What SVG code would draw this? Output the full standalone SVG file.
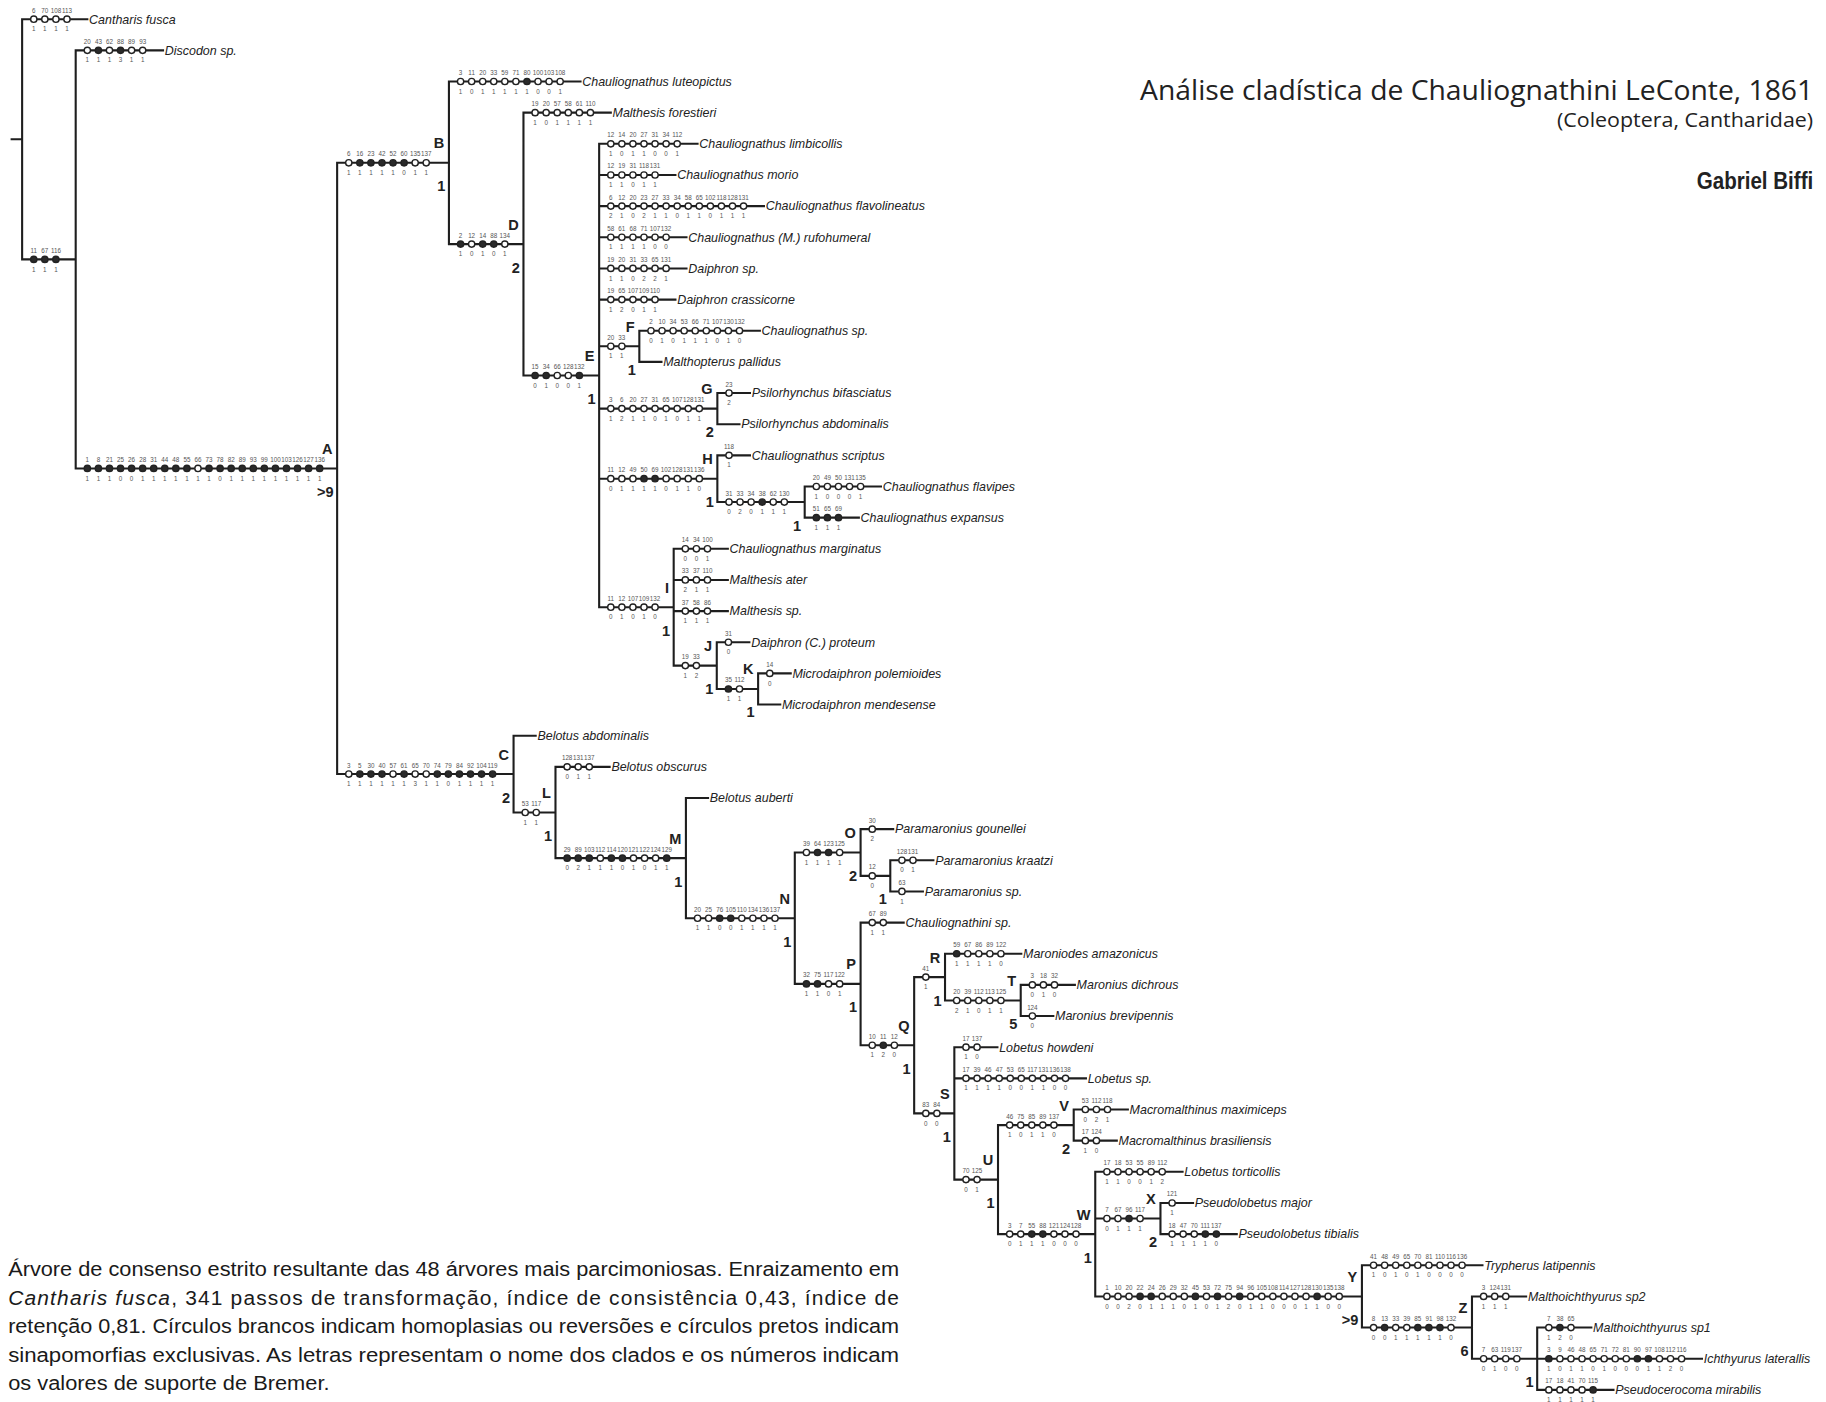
<svg xmlns="http://www.w3.org/2000/svg" width="1826" height="1402" viewBox="0 0 1826 1402">
<style>
.br{stroke:#1e1e1e;stroke-width:1.8;fill:none;stroke-linecap:square}
.o{fill:#fff;stroke:#222;stroke-width:1.2}
.f{fill:#2a2a2a;stroke:#222;stroke-width:1.2}
.n{font-family:"Liberation Sans Narrow","Liberation Sans",Arial,sans-serif;font-size:5.4px;fill:#555;text-anchor:middle}
.tx{font-family:"Liberation Sans",Arial,sans-serif;font-style:italic;font-size:10.7px;fill:#222}
.lb{font-family:"Liberation Sans",Arial,sans-serif;font-weight:bold;font-size:12.5px;fill:#222;text-anchor:end}
.ti{font-family:"Open Sans","Liberation Sans",sans-serif;fill:#222}
.cap{font-family:"Liberation Sans",Arial,sans-serif;font-size:18px;fill:#1a1a1a}
</style>
<defs><circle id="c" r="2.7"/></defs>
<rect width="1826" height="1402" fill="#fff"/>
<g transform="scale(1.16454)">
<g id="connectors">
<path class="br" d="M10 119.6H19M19 16.5V222.75M19 16.5H75M19 222.75H65M65 43.25V402.25M65 43.25H140M65 402.25H289.5
M289.5 139.8V664.7M289.5 139.8H385.5M289.5 664.7H441
M385.5 70V209.6M385.5 70H498.5M385.5 209.6H449.5
M449.5 96.75V322.45M449.5 96.75H524.5M449.5 322.45H514.5
M514.5 123.5V521.4M514.5 123.5H599M514.5 150.25H580M514.5 177H656M514.5 203.75H589.5M514.5 230.5H589.5M514.5 257.25H580M514.5 297.375H549M514.5 350.875H616M514.5 411.06H616M514.5 521.4H578.5
M549 284V310.75M549 284H652.5M549 310.75H568
M616 337.5V364.25M616 337.5H644M616 364.25H635
M616 391V431.125M616 391H644M616 431.125H691
M691 417.75V444.5M691 417.75H756.5M691 444.5H737.5
M578.5 471.25V571.56M578.5 471.25H625M578.5 498H625M578.5 524.75H625M578.5 571.56H615.5
M615.5 551.5V591.625M615.5 551.5H643.5M615.5 591.625H651
M651 578.25V605M651 578.25H679M651 605H670
M441 631.75V697.7M441 631.75H460M441 697.7H477
M477 658.5V736.9M477 658.5H523.5M477 736.9H589
M589 685.25V788.5M589 685.25H608M589 788.5H682.5
M682.5 732.06V844.9M682.5 732.06H739M682.5 844.9H739
M739 712V752.125M739 712H767M739 752.125H764.5
M764.5 738.75V765.5M764.5 738.75H801.5M764.5 765.5H792.5
M739 792.25V897.58M739 792.25H776M739 897.58H785
M785 839.06V956.1M785 839.06H811.5M785 956.1H819.5
M811.5 819V859.125M811.5 819H877M811.5 859.125H876.5
M876.5 845.75V872.5M876.5 845.75H923M876.5 872.5H904.5
M819.5 899.25V1012.94M819.5 899.25H856.5M819.5 926H932.5M819.5 1012.94H857
M857 966.125V1059.75M857 966.125H922M857 1059.75H940.5
M922 952.75V979.5M922 952.75H968.5M922 979.5H959
M940.5 1006.25V1113.25M940.5 1006.25H1015.5M940.5 1046.375H996.5M940.5 1113.25H1169.5
M996.5 1033V1059.75M996.5 1033H1024.5M996.5 1059.75H1062
M1169.5 1086.5V1140M1169.5 1086.5H1273M1169.5 1140H1264
M1264 1113.25V1166.75M1264 1113.25H1310.5M1264 1166.75H1320
M1320 1140V1193.5M1320 1140H1366.5M1320 1166.75H1461.5M1320 1193.5H1385.5"/>
</g>

<g id="t-cantharis-fusca"><g transform="translate(19,16.5)"><text class="n" y="-5.6"><tspan x="10">6</tspan><tspan x="19.5">70</tspan><tspan x="29">108</tspan><tspan x="38.5">113</tspan></text><text class="n" y="10.4"><tspan x="10">1</tspan><tspan x="19.5">1</tspan><tspan x="29">1</tspan><tspan x="38.5">1</tspan></text><use href="#c" class="o" x="10"/><use href="#c" class="o" x="19.5"/><use href="#c" class="o" x="29"/><use href="#c" class="o" x="38.5"/></g><text class="tx" x="76.5" y="20.2">Cantharis fusca</text></g>

<g id="node-ingroup"><g transform="translate(19,222.75)"><text class="n" y="-5.6"><tspan x="10">11</tspan><tspan x="19.5">67</tspan><tspan x="29">116</tspan></text><text class="n" y="10.4"><tspan x="10">1</tspan><tspan x="19.5">1</tspan><tspan x="29">1</tspan></text><use href="#c" class="f" x="10"/><use href="#c" class="f" x="19.5"/><use href="#c" class="f" x="29"/></g></g>

<g id="t-discodon"><g transform="translate(65,43.25)"><text class="n" y="-5.6"><tspan x="10">20</tspan><tspan x="19.5">43</tspan><tspan x="29">62</tspan><tspan x="38.5">88</tspan><tspan x="48">89</tspan><tspan x="57.5">93</tspan></text><text class="n" y="10.4"><tspan x="10">1</tspan><tspan x="19.5">1</tspan><tspan x="29">1</tspan><tspan x="38.5">3</tspan><tspan x="48">1</tspan><tspan x="57.5">1</tspan></text><use href="#c" class="o" x="10"/><use href="#c" class="f" x="19.5"/><use href="#c" class="o" x="29"/><use href="#c" class="f" x="38.5"/><use href="#c" class="o" x="48"/><use href="#c" class="o" x="57.5"/></g><text class="tx" x="141.5" y="46.95">Discodon sp.</text></g>

<g id="clade-A"><g transform="translate(65,402.25)"><text class="n" y="-5.6"><tspan x="10">1</tspan><tspan x="19.5">8</tspan><tspan x="29">21</tspan><tspan x="38.5">25</tspan><tspan x="48">26</tspan><tspan x="57.5">28</tspan><tspan x="67">31</tspan><tspan x="76.5">44</tspan><tspan x="86">48</tspan><tspan x="95.5">55</tspan><tspan x="105">66</tspan><tspan x="114.5">73</tspan><tspan x="124">78</tspan><tspan x="133.5">82</tspan><tspan x="143">89</tspan><tspan x="152.5">93</tspan><tspan x="162">99</tspan><tspan x="171.5">100</tspan><tspan x="181">103</tspan><tspan x="190.5">126</tspan><tspan x="200">127</tspan><tspan x="209.5">136</tspan></text><text class="n" y="10.4"><tspan x="10">1</tspan><tspan x="19.5">1</tspan><tspan x="29">1</tspan><tspan x="38.5">0</tspan><tspan x="48">0</tspan><tspan x="57.5">1</tspan><tspan x="67">1</tspan><tspan x="76.5">1</tspan><tspan x="86">1</tspan><tspan x="95.5">1</tspan><tspan x="105">1</tspan><tspan x="114.5">1</tspan><tspan x="124">0</tspan><tspan x="133.5">1</tspan><tspan x="143">1</tspan><tspan x="152.5">1</tspan><tspan x="162">1</tspan><tspan x="171.5">1</tspan><tspan x="181">1</tspan><tspan x="190.5">1</tspan><tspan x="200">1</tspan><tspan x="209.5">1</tspan></text><use href="#c" class="f" x="10"/><use href="#c" class="f" x="19.5"/><use href="#c" class="f" x="29"/><use href="#c" class="f" x="38.5"/><use href="#c" class="f" x="48"/><use href="#c" class="f" x="57.5"/><use href="#c" class="f" x="67"/><use href="#c" class="f" x="76.5"/><use href="#c" class="f" x="86"/><use href="#c" class="f" x="95.5"/><use href="#c" class="o" x="105"/><use href="#c" class="f" x="114.5"/><use href="#c" class="f" x="124"/><use href="#c" class="f" x="133.5"/><use href="#c" class="f" x="143"/><use href="#c" class="f" x="152.5"/><use href="#c" class="f" x="162"/><use href="#c" class="f" x="171.5"/><use href="#c" class="f" x="181"/><use href="#c" class="f" x="190.5"/><use href="#c" class="f" x="200"/><use href="#c" class="f" x="209.5"/></g><text class="lb" x="285.5" y="389.75">A</text><text class="lb" x="286.5" y="426.75">&gt;9</text></g>

<g id="clade-B"><g transform="translate(289.5,139.8)"><text class="n" y="-5.6"><tspan x="10">6</tspan><tspan x="19.5">16</tspan><tspan x="29">23</tspan><tspan x="38.5">42</tspan><tspan x="48">52</tspan><tspan x="57.5">60</tspan><tspan x="67">135</tspan><tspan x="76.5">137</tspan></text><text class="n" y="10.4"><tspan x="10">1</tspan><tspan x="19.5">1</tspan><tspan x="29">1</tspan><tspan x="38.5">1</tspan><tspan x="48">1</tspan><tspan x="57.5">0</tspan><tspan x="67">1</tspan><tspan x="76.5">1</tspan></text><use href="#c" class="o" x="10"/><use href="#c" class="f" x="19.5"/><use href="#c" class="f" x="29"/><use href="#c" class="f" x="38.5"/><use href="#c" class="f" x="48"/><use href="#c" class="f" x="57.5"/><use href="#c" class="o" x="67"/><use href="#c" class="o" x="76.5"/></g><text class="lb" x="381.5" y="127.3">B</text><text class="lb" x="382.5" y="164.3">1</text></g>

<g id="t-luteopictus"><g transform="translate(385.5,70)"><text class="n" y="-5.6"><tspan x="10">3</tspan><tspan x="19.5">11</tspan><tspan x="29">20</tspan><tspan x="38.5">33</tspan><tspan x="48">59</tspan><tspan x="57.5">71</tspan><tspan x="67">80</tspan><tspan x="76.5">100</tspan><tspan x="86">103</tspan><tspan x="95.5">108</tspan></text><text class="n" y="10.4"><tspan x="10">1</tspan><tspan x="19.5">0</tspan><tspan x="29">1</tspan><tspan x="38.5">1</tspan><tspan x="48">1</tspan><tspan x="57.5">1</tspan><tspan x="67">1</tspan><tspan x="76.5">0</tspan><tspan x="86">0</tspan><tspan x="95.5">1</tspan></text><use href="#c" class="o" x="10"/><use href="#c" class="o" x="19.5"/><use href="#c" class="o" x="29"/><use href="#c" class="o" x="38.5"/><use href="#c" class="o" x="48"/><use href="#c" class="o" x="57.5"/><use href="#c" class="f" x="67"/><use href="#c" class="o" x="76.5"/><use href="#c" class="o" x="86"/><use href="#c" class="o" x="95.5"/></g><text class="tx" x="500" y="73.7">Chauliognathus luteopictus</text></g>

<g id="clade-D"><g transform="translate(385.5,209.6)"><text class="n" y="-5.6"><tspan x="10">2</tspan><tspan x="19.5">12</tspan><tspan x="29">14</tspan><tspan x="38.5">88</tspan><tspan x="48">134</tspan></text><text class="n" y="10.4"><tspan x="10">1</tspan><tspan x="19.5">0</tspan><tspan x="29">1</tspan><tspan x="38.5">0</tspan><tspan x="48">1</tspan></text><use href="#c" class="f" x="10"/><use href="#c" class="o" x="19.5"/><use href="#c" class="f" x="29"/><use href="#c" class="f" x="38.5"/><use href="#c" class="o" x="48"/></g><text class="lb" x="445.5" y="197.1">D</text><text class="lb" x="446.5" y="234.1">2</text></g>

<g id="t-forestieri"><g transform="translate(449.5,96.75)"><text class="n" y="-5.6"><tspan x="10">19</tspan><tspan x="19.5">20</tspan><tspan x="29">57</tspan><tspan x="38.5">58</tspan><tspan x="48">61</tspan><tspan x="57.5">110</tspan></text><text class="n" y="10.4"><tspan x="10">1</tspan><tspan x="19.5">0</tspan><tspan x="29">1</tspan><tspan x="38.5">1</tspan><tspan x="48">1</tspan><tspan x="57.5">1</tspan></text><use href="#c" class="o" x="10"/><use href="#c" class="o" x="19.5"/><use href="#c" class="o" x="29"/><use href="#c" class="o" x="38.5"/><use href="#c" class="o" x="48"/><use href="#c" class="o" x="57.5"/></g><text class="tx" x="526" y="100.45">Malthesis forestieri</text></g>

<g id="clade-E"><g transform="translate(449.5,322.45)"><text class="n" y="-5.6"><tspan x="10">15</tspan><tspan x="19.5">34</tspan><tspan x="29">66</tspan><tspan x="38.5">128</tspan><tspan x="48">132</tspan></text><text class="n" y="10.4"><tspan x="10">0</tspan><tspan x="19.5">1</tspan><tspan x="29">0</tspan><tspan x="38.5">0</tspan><tspan x="48">1</tspan></text><use href="#c" class="f" x="10"/><use href="#c" class="f" x="19.5"/><use href="#c" class="o" x="29"/><use href="#c" class="o" x="38.5"/><use href="#c" class="f" x="48"/></g><text class="lb" x="510.5" y="309.95">E</text><text class="lb" x="511.5" y="346.95">1</text></g>

<g id="t-limbicollis"><g transform="translate(514.5,123.5)"><text class="n" y="-5.6"><tspan x="10">12</tspan><tspan x="19.5">14</tspan><tspan x="29">20</tspan><tspan x="38.5">27</tspan><tspan x="48">31</tspan><tspan x="57.5">34</tspan><tspan x="67">112</tspan></text><text class="n" y="10.4"><tspan x="10">1</tspan><tspan x="19.5">0</tspan><tspan x="29">1</tspan><tspan x="38.5">1</tspan><tspan x="48">0</tspan><tspan x="57.5">0</tspan><tspan x="67">1</tspan></text><use href="#c" class="o" x="10"/><use href="#c" class="o" x="19.5"/><use href="#c" class="o" x="29"/><use href="#c" class="o" x="38.5"/><use href="#c" class="o" x="48"/><use href="#c" class="o" x="57.5"/><use href="#c" class="o" x="67"/></g><text class="tx" x="600.5" y="127.2">Chauliognathus limbicollis</text></g>

<g id="t-morio"><g transform="translate(514.5,150.25)"><text class="n" y="-5.6"><tspan x="10">12</tspan><tspan x="19.5">19</tspan><tspan x="29">31</tspan><tspan x="38.5">118</tspan><tspan x="48">131</tspan></text><text class="n" y="10.4"><tspan x="10">1</tspan><tspan x="19.5">1</tspan><tspan x="29">0</tspan><tspan x="38.5">1</tspan><tspan x="48">1</tspan></text><use href="#c" class="o" x="10"/><use href="#c" class="o" x="19.5"/><use href="#c" class="o" x="29"/><use href="#c" class="o" x="38.5"/><use href="#c" class="o" x="48"/></g><text class="tx" x="581.5" y="153.95">Chauliognathus morio</text></g>

<g id="t-flavolineatus"><g transform="translate(514.5,177)"><text class="n" y="-5.6"><tspan x="10">6</tspan><tspan x="19.5">12</tspan><tspan x="29">20</tspan><tspan x="38.5">23</tspan><tspan x="48">27</tspan><tspan x="57.5">33</tspan><tspan x="67">34</tspan><tspan x="76.5">58</tspan><tspan x="86">65</tspan><tspan x="95.5">102</tspan><tspan x="105">118</tspan><tspan x="114.5">128</tspan><tspan x="124">131</tspan></text><text class="n" y="10.4"><tspan x="10">2</tspan><tspan x="19.5">1</tspan><tspan x="29">0</tspan><tspan x="38.5">2</tspan><tspan x="48">1</tspan><tspan x="57.5">1</tspan><tspan x="67">0</tspan><tspan x="76.5">1</tspan><tspan x="86">1</tspan><tspan x="95.5">0</tspan><tspan x="105">1</tspan><tspan x="114.5">1</tspan><tspan x="124">1</tspan></text><use href="#c" class="o" x="10"/><use href="#c" class="o" x="19.5"/><use href="#c" class="o" x="29"/><use href="#c" class="o" x="38.5"/><use href="#c" class="o" x="48"/><use href="#c" class="o" x="57.5"/><use href="#c" class="o" x="67"/><use href="#c" class="o" x="76.5"/><use href="#c" class="o" x="86"/><use href="#c" class="o" x="95.5"/><use href="#c" class="o" x="105"/><use href="#c" class="o" x="114.5"/><use href="#c" class="o" x="124"/></g><text class="tx" x="657.5" y="180.7">Chauliognathus flavolineatus</text></g>

<g id="t-rufohumeral"><g transform="translate(514.5,203.75)"><text class="n" y="-5.6"><tspan x="10">58</tspan><tspan x="19.5">61</tspan><tspan x="29">68</tspan><tspan x="38.5">71</tspan><tspan x="48">107</tspan><tspan x="57.5">132</tspan></text><text class="n" y="10.4"><tspan x="10">1</tspan><tspan x="19.5">1</tspan><tspan x="29">1</tspan><tspan x="38.5">1</tspan><tspan x="48">0</tspan><tspan x="57.5">0</tspan></text><use href="#c" class="o" x="10"/><use href="#c" class="o" x="19.5"/><use href="#c" class="o" x="29"/><use href="#c" class="o" x="38.5"/><use href="#c" class="o" x="48"/><use href="#c" class="o" x="57.5"/></g><text class="tx" x="591" y="207.45">Chauliognathus (M.) rufohumeral</text></g>

<g id="t-daiphron-sp"><g transform="translate(514.5,230.5)"><text class="n" y="-5.6"><tspan x="10">19</tspan><tspan x="19.5">20</tspan><tspan x="29">31</tspan><tspan x="38.5">33</tspan><tspan x="48">65</tspan><tspan x="57.5">131</tspan></text><text class="n" y="10.4"><tspan x="10">1</tspan><tspan x="19.5">1</tspan><tspan x="29">0</tspan><tspan x="38.5">2</tspan><tspan x="48">2</tspan><tspan x="57.5">1</tspan></text><use href="#c" class="o" x="10"/><use href="#c" class="o" x="19.5"/><use href="#c" class="o" x="29"/><use href="#c" class="o" x="38.5"/><use href="#c" class="o" x="48"/><use href="#c" class="o" x="57.5"/></g><text class="tx" x="591" y="234.2">Daiphron sp.</text></g>

<g id="t-crassicorne"><g transform="translate(514.5,257.25)"><text class="n" y="-5.6"><tspan x="10">19</tspan><tspan x="19.5">65</tspan><tspan x="29">107</tspan><tspan x="38.5">109</tspan><tspan x="48">110</tspan></text><text class="n" y="10.4"><tspan x="10">1</tspan><tspan x="19.5">2</tspan><tspan x="29">0</tspan><tspan x="38.5">1</tspan><tspan x="48">1</tspan></text><use href="#c" class="o" x="10"/><use href="#c" class="o" x="19.5"/><use href="#c" class="o" x="29"/><use href="#c" class="o" x="38.5"/><use href="#c" class="o" x="48"/></g><text class="tx" x="581.5" y="260.95">Daiphron crassicorne</text></g>

<g id="clade-F"><g transform="translate(514.5,297.375)"><text class="n" y="-5.6"><tspan x="10">20</tspan><tspan x="19.5">33</tspan></text><text class="n" y="10.4"><tspan x="10">1</tspan><tspan x="19.5">1</tspan></text><use href="#c" class="o" x="10"/><use href="#c" class="o" x="19.5"/></g><text class="lb" x="545" y="284.9">F</text><text class="lb" x="546" y="321.9">1</text></g>

<g id="t-chauliognathus-sp"><g transform="translate(549,284)"><text class="n" y="-5.6"><tspan x="10">2</tspan><tspan x="19.5">10</tspan><tspan x="29">34</tspan><tspan x="38.5">53</tspan><tspan x="48">66</tspan><tspan x="57.5">71</tspan><tspan x="67">107</tspan><tspan x="76.5">130</tspan><tspan x="86">132</tspan></text><text class="n" y="10.4"><tspan x="10">0</tspan><tspan x="19.5">1</tspan><tspan x="29">0</tspan><tspan x="38.5">1</tspan><tspan x="48">1</tspan><tspan x="57.5">1</tspan><tspan x="67">0</tspan><tspan x="76.5">1</tspan><tspan x="86">0</tspan></text><use href="#c" class="o" x="10"/><use href="#c" class="o" x="19.5"/><use href="#c" class="o" x="29"/><use href="#c" class="o" x="38.5"/><use href="#c" class="o" x="48"/><use href="#c" class="o" x="57.5"/><use href="#c" class="o" x="67"/><use href="#c" class="o" x="76.5"/><use href="#c" class="o" x="86"/></g><text class="tx" x="654" y="287.7">Chauliognathus sp.</text></g>

<g id="t-malthopterus"><text class="tx" x="569.5" y="314.45">Malthopterus pallidus</text></g>

<g id="clade-G"><g transform="translate(514.5,350.875)"><text class="n" y="-5.6"><tspan x="10">3</tspan><tspan x="19.5">6</tspan><tspan x="29">20</tspan><tspan x="38.5">27</tspan><tspan x="48">31</tspan><tspan x="57.5">65</tspan><tspan x="67">107</tspan><tspan x="76.5">128</tspan><tspan x="86">131</tspan></text><text class="n" y="10.4"><tspan x="10">1</tspan><tspan x="19.5">2</tspan><tspan x="29">1</tspan><tspan x="38.5">1</tspan><tspan x="48">0</tspan><tspan x="57.5">1</tspan><tspan x="67">0</tspan><tspan x="76.5">1</tspan><tspan x="86">1</tspan></text><use href="#c" class="o" x="10"/><use href="#c" class="o" x="19.5"/><use href="#c" class="o" x="29"/><use href="#c" class="o" x="38.5"/><use href="#c" class="o" x="48"/><use href="#c" class="o" x="57.5"/><use href="#c" class="o" x="67"/><use href="#c" class="o" x="76.5"/><use href="#c" class="o" x="86"/></g><text class="lb" x="612" y="338.4">G</text><text class="lb" x="613" y="375.4">2</text></g>

<g id="t-bifasciatus"><g transform="translate(616,337.5)"><text class="n" y="-5.6"><tspan x="10">23</tspan></text><text class="n" y="10.4"><tspan x="10">2</tspan></text><use href="#c" class="o" x="10"/></g><text class="tx" x="645.5" y="341.2">Psilorhynchus bifasciatus</text></g>

<g id="t-abdominalis-psil"><text class="tx" x="636.5" y="367.95">Psilorhynchus abdominalis</text></g>

<g id="clade-H"><g transform="translate(514.5,411.06)"><text class="n" y="-5.6"><tspan x="10">11</tspan><tspan x="19.5">12</tspan><tspan x="29">49</tspan><tspan x="38.5">50</tspan><tspan x="48">69</tspan><tspan x="57.5">102</tspan><tspan x="67">128</tspan><tspan x="76.5">131</tspan><tspan x="86">136</tspan></text><text class="n" y="10.4"><tspan x="10">0</tspan><tspan x="19.5">1</tspan><tspan x="29">1</tspan><tspan x="38.5">1</tspan><tspan x="48">1</tspan><tspan x="57.5">0</tspan><tspan x="67">1</tspan><tspan x="76.5">1</tspan><tspan x="86">0</tspan></text><use href="#c" class="o" x="10"/><use href="#c" class="o" x="19.5"/><use href="#c" class="o" x="29"/><use href="#c" class="f" x="38.5"/><use href="#c" class="f" x="48"/><use href="#c" class="o" x="57.5"/><use href="#c" class="o" x="67"/><use href="#c" class="o" x="76.5"/><use href="#c" class="o" x="86"/></g><text class="lb" x="612" y="398.6">H</text><text class="lb" x="613" y="435.6">1</text></g>

<g id="t-scriptus"><g transform="translate(616,391)"><text class="n" y="-5.6"><tspan x="10">118</tspan></text><text class="n" y="10.4"><tspan x="10">1</tspan></text><use href="#c" class="o" x="10"/></g><text class="tx" x="645.5" y="394.7">Chauliognathus scriptus</text></g>

<g id="node-H2"><g transform="translate(616,431.125)"><text class="n" y="-5.6"><tspan x="10">31</tspan><tspan x="19.5">33</tspan><tspan x="29">34</tspan><tspan x="38.5">38</tspan><tspan x="48">62</tspan><tspan x="57.5">130</tspan></text><text class="n" y="10.4"><tspan x="10">0</tspan><tspan x="19.5">2</tspan><tspan x="29">0</tspan><tspan x="38.5">1</tspan><tspan x="48">1</tspan><tspan x="57.5">1</tspan></text><use href="#c" class="o" x="10"/><use href="#c" class="o" x="19.5"/><use href="#c" class="o" x="29"/><use href="#c" class="f" x="38.5"/><use href="#c" class="o" x="48"/><use href="#c" class="o" x="57.5"/></g><text class="lb" x="688" y="455.6">1</text></g>

<g id="t-flavipes"><g transform="translate(691,417.75)"><text class="n" y="-5.6"><tspan x="10">20</tspan><tspan x="19.5">49</tspan><tspan x="29">50</tspan><tspan x="38.5">131</tspan><tspan x="48">135</tspan></text><text class="n" y="10.4"><tspan x="10">1</tspan><tspan x="19.5">0</tspan><tspan x="29">0</tspan><tspan x="38.5">0</tspan><tspan x="48">1</tspan></text><use href="#c" class="o" x="10"/><use href="#c" class="o" x="19.5"/><use href="#c" class="o" x="29"/><use href="#c" class="o" x="38.5"/><use href="#c" class="o" x="48"/></g><text class="tx" x="758" y="421.45">Chauliognathus flavipes</text></g>

<g id="t-expansus"><g transform="translate(691,444.5)"><text class="n" y="-5.6"><tspan x="10">51</tspan><tspan x="19.5">65</tspan><tspan x="29">69</tspan></text><text class="n" y="10.4"><tspan x="10">1</tspan><tspan x="19.5">1</tspan><tspan x="29">1</tspan></text><use href="#c" class="f" x="10"/><use href="#c" class="f" x="19.5"/><use href="#c" class="f" x="29"/></g><text class="tx" x="739" y="448.2">Chauliognathus expansus</text></g>

<g id="clade-I"><g transform="translate(514.5,521.4)"><text class="n" y="-5.6"><tspan x="10">11</tspan><tspan x="19.5">12</tspan><tspan x="29">107</tspan><tspan x="38.5">109</tspan><tspan x="48">132</tspan></text><text class="n" y="10.4"><tspan x="10">0</tspan><tspan x="19.5">1</tspan><tspan x="29">0</tspan><tspan x="38.5">1</tspan><tspan x="48">0</tspan></text><use href="#c" class="o" x="10"/><use href="#c" class="o" x="19.5"/><use href="#c" class="o" x="29"/><use href="#c" class="o" x="38.5"/><use href="#c" class="o" x="48"/></g><text class="lb" x="574.5" y="508.9">I</text><text class="lb" x="575.5" y="545.9">1</text></g>

<g id="t-marginatus"><g transform="translate(578.5,471.25)"><text class="n" y="-5.6"><tspan x="10">14</tspan><tspan x="19.5">34</tspan><tspan x="29">100</tspan></text><text class="n" y="10.4"><tspan x="10">0</tspan><tspan x="19.5">0</tspan><tspan x="29">1</tspan></text><use href="#c" class="o" x="10"/><use href="#c" class="o" x="19.5"/><use href="#c" class="o" x="29"/></g><text class="tx" x="626.5" y="474.95">Chauliognathus marginatus</text></g>

<g id="t-ater"><g transform="translate(578.5,498)"><text class="n" y="-5.6"><tspan x="10">33</tspan><tspan x="19.5">37</tspan><tspan x="29">110</tspan></text><text class="n" y="10.4"><tspan x="10">2</tspan><tspan x="19.5">1</tspan><tspan x="29">1</tspan></text><use href="#c" class="o" x="10"/><use href="#c" class="o" x="19.5"/><use href="#c" class="o" x="29"/></g><text class="tx" x="626.5" y="501.7">Malthesis ater</text></g>

<g id="t-malthesis-sp"><g transform="translate(578.5,524.75)"><text class="n" y="-5.6"><tspan x="10">37</tspan><tspan x="19.5">58</tspan><tspan x="29">86</tspan></text><text class="n" y="10.4"><tspan x="10">1</tspan><tspan x="19.5">1</tspan><tspan x="29">1</tspan></text><use href="#c" class="o" x="10"/><use href="#c" class="o" x="19.5"/><use href="#c" class="o" x="29"/></g><text class="tx" x="626.5" y="528.45">Malthesis sp.</text></g>

<g id="clade-J"><g transform="translate(578.5,571.56)"><text class="n" y="-5.6"><tspan x="10">19</tspan><tspan x="19.5">33</tspan></text><text class="n" y="10.4"><tspan x="10">1</tspan><tspan x="19.5">2</tspan></text><use href="#c" class="o" x="10"/><use href="#c" class="o" x="19.5"/></g><text class="lb" x="611.5" y="559.1">J</text><text class="lb" x="612.5" y="596.1">1</text></g>

<g id="t-proteum"><g transform="translate(615.5,551.5)"><text class="n" y="-5.6"><tspan x="10">31</tspan></text><text class="n" y="10.4"><tspan x="10">0</tspan></text><use href="#c" class="o" x="10"/></g><text class="tx" x="645" y="555.2">Daiphron (C.) proteum</text></g>

<g id="clade-K"><g transform="translate(615.5,591.625)"><text class="n" y="-5.6"><tspan x="10">35</tspan><tspan x="19.5">112</tspan></text><text class="n" y="10.4"><tspan x="10">1</tspan><tspan x="19.5">1</tspan></text><use href="#c" class="f" x="10"/><use href="#c" class="o" x="19.5"/></g><text class="lb" x="647" y="579.1">K</text><text class="lb" x="648" y="616.1">1</text></g>

<g id="t-polemioides"><g transform="translate(651,578.25)"><text class="n" y="-5.6"><tspan x="10">14</tspan></text><text class="n" y="10.4"><tspan x="10">0</tspan></text><use href="#c" class="o" x="10"/></g><text class="tx" x="680.5" y="581.95">Microdaiphron polemioides</text></g>

<g id="t-mendesense"><text class="tx" x="671.5" y="608.7">Microdaiphron mendesense</text></g>

<g id="clade-C"><g transform="translate(289.5,664.7)"><text class="n" y="-5.6"><tspan x="10">3</tspan><tspan x="19.5">5</tspan><tspan x="29">30</tspan><tspan x="38.5">40</tspan><tspan x="48">57</tspan><tspan x="57.5">61</tspan><tspan x="67">65</tspan><tspan x="76.5">70</tspan><tspan x="86">74</tspan><tspan x="95.5">79</tspan><tspan x="105">84</tspan><tspan x="114.5">92</tspan><tspan x="124">104</tspan><tspan x="133.5">119</tspan></text><text class="n" y="10.4"><tspan x="10">1</tspan><tspan x="19.5">1</tspan><tspan x="29">1</tspan><tspan x="38.5">1</tspan><tspan x="48">1</tspan><tspan x="57.5">1</tspan><tspan x="67">3</tspan><tspan x="76.5">1</tspan><tspan x="86">1</tspan><tspan x="95.5">0</tspan><tspan x="105">1</tspan><tspan x="114.5">1</tspan><tspan x="124">1</tspan><tspan x="133.5">1</tspan></text><use href="#c" class="o" x="10"/><use href="#c" class="f" x="19.5"/><use href="#c" class="f" x="29"/><use href="#c" class="f" x="38.5"/><use href="#c" class="o" x="48"/><use href="#c" class="f" x="57.5"/><use href="#c" class="o" x="67"/><use href="#c" class="o" x="76.5"/><use href="#c" class="f" x="86"/><use href="#c" class="f" x="95.5"/><use href="#c" class="f" x="105"/><use href="#c" class="f" x="114.5"/><use href="#c" class="f" x="124"/><use href="#c" class="f" x="133.5"/></g><text class="lb" x="437" y="652.2">C</text><text class="lb" x="438" y="689.2">2</text></g>

<g id="t-belotus-abdominalis"><text class="tx" x="461.5" y="635.45">Belotus abdominalis</text></g>

<g id="clade-L"><g transform="translate(441,697.7)"><text class="n" y="-5.6"><tspan x="10">53</tspan><tspan x="19.5">117</tspan></text><text class="n" y="10.4"><tspan x="10">1</tspan><tspan x="19.5">1</tspan></text><use href="#c" class="o" x="10"/><use href="#c" class="o" x="19.5"/></g><text class="lb" x="473" y="685.2">L</text><text class="lb" x="474" y="722.2">1</text></g>

<g id="t-obscurus"><g transform="translate(477,658.5)"><text class="n" y="-5.6"><tspan x="10">128</tspan><tspan x="19.5">131</tspan><tspan x="29">137</tspan></text><text class="n" y="10.4"><tspan x="10">0</tspan><tspan x="19.5">1</tspan><tspan x="29">1</tspan></text><use href="#c" class="o" x="10"/><use href="#c" class="o" x="19.5"/><use href="#c" class="o" x="29"/></g><text class="tx" x="525" y="662.2">Belotus obscurus</text></g>

<g id="clade-M"><g transform="translate(477,736.9)"><text class="n" y="-5.6"><tspan x="10">29</tspan><tspan x="19.5">89</tspan><tspan x="29">103</tspan><tspan x="38.5">112</tspan><tspan x="48">114</tspan><tspan x="57.5">120</tspan><tspan x="67">121</tspan><tspan x="76.5">122</tspan><tspan x="86">124</tspan><tspan x="95.5">129</tspan></text><text class="n" y="10.4"><tspan x="10">0</tspan><tspan x="19.5">2</tspan><tspan x="29">1</tspan><tspan x="38.5">1</tspan><tspan x="48">1</tspan><tspan x="57.5">0</tspan><tspan x="67">1</tspan><tspan x="76.5">0</tspan><tspan x="86">1</tspan><tspan x="95.5">1</tspan></text><use href="#c" class="f" x="10"/><use href="#c" class="f" x="19.5"/><use href="#c" class="f" x="29"/><use href="#c" class="o" x="38.5"/><use href="#c" class="f" x="48"/><use href="#c" class="f" x="57.5"/><use href="#c" class="o" x="67"/><use href="#c" class="o" x="76.5"/><use href="#c" class="o" x="86"/><use href="#c" class="f" x="95.5"/></g><text class="lb" x="585" y="724.4">M</text><text class="lb" x="586" y="761.4">1</text></g>

<g id="t-auberti"><text class="tx" x="609.5" y="688.95">Belotus auberti</text></g>

<g id="clade-N"><g transform="translate(589,788.5)"><text class="n" y="-5.6"><tspan x="10">20</tspan><tspan x="19.5">25</tspan><tspan x="29">76</tspan><tspan x="38.5">105</tspan><tspan x="48">110</tspan><tspan x="57.5">134</tspan><tspan x="67">136</tspan><tspan x="76.5">137</tspan></text><text class="n" y="10.4"><tspan x="10">1</tspan><tspan x="19.5">1</tspan><tspan x="29">0</tspan><tspan x="38.5">0</tspan><tspan x="48">1</tspan><tspan x="57.5">1</tspan><tspan x="67">1</tspan><tspan x="76.5">1</tspan></text><use href="#c" class="o" x="10"/><use href="#c" class="o" x="19.5"/><use href="#c" class="f" x="29"/><use href="#c" class="f" x="38.5"/><use href="#c" class="o" x="48"/><use href="#c" class="o" x="57.5"/><use href="#c" class="o" x="67"/><use href="#c" class="o" x="76.5"/></g><text class="lb" x="678.5" y="776">N</text><text class="lb" x="679.5" y="813">1</text></g>

<g id="clade-O"><g transform="translate(682.5,732.06)"><text class="n" y="-5.6"><tspan x="10">39</tspan><tspan x="19.5">64</tspan><tspan x="29">123</tspan><tspan x="38.5">125</tspan></text><text class="n" y="10.4"><tspan x="10">1</tspan><tspan x="19.5">1</tspan><tspan x="29">1</tspan><tspan x="38.5">1</tspan></text><use href="#c" class="o" x="10"/><use href="#c" class="f" x="19.5"/><use href="#c" class="f" x="29"/><use href="#c" class="o" x="38.5"/></g><text class="lb" x="735" y="719.56">O</text><text class="lb" x="736" y="756.56">2</text></g>

<g id="t-gounellei"><g transform="translate(739,712)"><text class="n" y="-5.6"><tspan x="10">30</tspan></text><text class="n" y="10.4"><tspan x="10">2</tspan></text><use href="#c" class="o" x="10"/></g><text class="tx" x="768.5" y="715.7">Paramaronius gounellei</text></g>

<g id="node-O2"><g transform="translate(739,752.125)"><text class="n" y="-5.6"><tspan x="10">12</tspan></text><text class="n" y="10.4"><tspan x="10">0</tspan></text><use href="#c" class="o" x="10"/></g><text class="lb" x="761.5" y="776.6">1</text></g>

<g id="t-kraatzi"><g transform="translate(764.5,738.75)"><text class="n" y="-5.6"><tspan x="10">128</tspan><tspan x="19.5">131</tspan></text><text class="n" y="10.4"><tspan x="10">0</tspan><tspan x="19.5">1</tspan></text><use href="#c" class="o" x="10"/><use href="#c" class="o" x="19.5"/></g><text class="tx" x="803" y="742.45">Paramaronius kraatzi</text></g>

<g id="t-paramaronius-sp"><g transform="translate(764.5,765.5)"><text class="n" y="-5.6"><tspan x="10">63</tspan></text><text class="n" y="10.4"><tspan x="10">1</tspan></text><use href="#c" class="o" x="10"/></g><text class="tx" x="794" y="769.2">Paramaronius sp.</text></g>

<g id="clade-P"><g transform="translate(682.5,844.9)"><text class="n" y="-5.6"><tspan x="10">32</tspan><tspan x="19.5">75</tspan><tspan x="29">117</tspan><tspan x="38.5">122</tspan></text><text class="n" y="10.4"><tspan x="10">1</tspan><tspan x="19.5">1</tspan><tspan x="29">0</tspan><tspan x="38.5">1</tspan></text><use href="#c" class="f" x="10"/><use href="#c" class="f" x="19.5"/><use href="#c" class="o" x="29"/><use href="#c" class="o" x="38.5"/></g><text class="lb" x="735" y="832.4">P</text><text class="lb" x="736" y="869.4">1</text></g>

<g id="t-chauliognathini-sp"><g transform="translate(739,792.25)"><text class="n" y="-5.6"><tspan x="10">67</tspan><tspan x="19.5">89</tspan></text><text class="n" y="10.4"><tspan x="10">1</tspan><tspan x="19.5">1</tspan></text><use href="#c" class="o" x="10"/><use href="#c" class="o" x="19.5"/></g><text class="tx" x="777.5" y="795.95">Chauliognathini sp.</text></g>

<g id="clade-Q"><g transform="translate(739,897.58)"><text class="n" y="-5.6"><tspan x="10">10</tspan><tspan x="19.5">11</tspan><tspan x="29">12</tspan></text><text class="n" y="10.4"><tspan x="10">1</tspan><tspan x="19.5">2</tspan><tspan x="29">0</tspan></text><use href="#c" class="o" x="10"/><use href="#c" class="f" x="19.5"/><use href="#c" class="o" x="29"/></g><text class="lb" x="781" y="885.1">Q</text><text class="lb" x="782" y="922.1">1</text></g>

<g id="clade-R"><g transform="translate(785,839.06)"><text class="n" y="-5.6"><tspan x="10">41</tspan></text><text class="n" y="10.4"><tspan x="10">1</tspan></text><use href="#c" class="o" x="10"/></g><text class="lb" x="807.5" y="826.56">R</text><text class="lb" x="808.5" y="863.56">1</text></g>

<g id="t-maroniodes"><g transform="translate(811.5,819)"><text class="n" y="-5.6"><tspan x="10">59</tspan><tspan x="19.5">67</tspan><tspan x="29">86</tspan><tspan x="38.5">89</tspan><tspan x="48">122</tspan></text><text class="n" y="10.4"><tspan x="10">1</tspan><tspan x="19.5">1</tspan><tspan x="29">1</tspan><tspan x="38.5">1</tspan><tspan x="48">0</tspan></text><use href="#c" class="f" x="10"/><use href="#c" class="o" x="19.5"/><use href="#c" class="o" x="29"/><use href="#c" class="o" x="38.5"/><use href="#c" class="o" x="48"/></g><text class="tx" x="878.5" y="822.7">Maroniodes amazonicus</text></g>

<g id="clade-T"><g transform="translate(811.5,859.125)"><text class="n" y="-5.6"><tspan x="10">20</tspan><tspan x="19.5">39</tspan><tspan x="29">112</tspan><tspan x="38.5">113</tspan><tspan x="48">125</tspan></text><text class="n" y="10.4"><tspan x="10">2</tspan><tspan x="19.5">1</tspan><tspan x="29">0</tspan><tspan x="38.5">1</tspan><tspan x="48">1</tspan></text><use href="#c" class="o" x="10"/><use href="#c" class="o" x="19.5"/><use href="#c" class="o" x="29"/><use href="#c" class="o" x="38.5"/><use href="#c" class="o" x="48"/></g><text class="lb" x="872.5" y="846.6">T</text><text class="lb" x="873.5" y="883.6">5</text></g>

<g id="t-dichrous"><g transform="translate(876.5,845.75)"><text class="n" y="-5.6"><tspan x="10">3</tspan><tspan x="19.5">18</tspan><tspan x="29">32</tspan></text><text class="n" y="10.4"><tspan x="10">0</tspan><tspan x="19.5">1</tspan><tspan x="29">0</tspan></text><use href="#c" class="o" x="10"/><use href="#c" class="o" x="19.5"/><use href="#c" class="o" x="29"/></g><text class="tx" x="924.5" y="849.45">Maronius dichrous</text></g>

<g id="t-brevipennis"><g transform="translate(876.5,872.5)"><text class="n" y="-5.6"><tspan x="10">124</tspan></text><text class="n" y="10.4"><tspan x="10">0</tspan></text><use href="#c" class="o" x="10"/></g><text class="tx" x="906" y="876.2">Maronius brevipennis</text></g>

<g id="clade-S"><g transform="translate(785,956.1)"><text class="n" y="-5.6"><tspan x="10">83</tspan><tspan x="19.5">84</tspan></text><text class="n" y="10.4"><tspan x="10">0</tspan><tspan x="19.5">0</tspan></text><use href="#c" class="o" x="10"/><use href="#c" class="o" x="19.5"/></g><text class="lb" x="815.5" y="943.6">S</text><text class="lb" x="816.5" y="980.6">1</text></g>

<g id="t-howdeni"><g transform="translate(819.5,899.25)"><text class="n" y="-5.6"><tspan x="10">17</tspan><tspan x="19.5">137</tspan></text><text class="n" y="10.4"><tspan x="10">1</tspan><tspan x="19.5">0</tspan></text><use href="#c" class="o" x="10"/><use href="#c" class="o" x="19.5"/></g><text class="tx" x="858" y="902.95">Lobetus howdeni</text></g>

<g id="t-lobetus-sp"><g transform="translate(819.5,926)"><text class="n" y="-5.6"><tspan x="10">17</tspan><tspan x="19.5">39</tspan><tspan x="29">46</tspan><tspan x="38.5">47</tspan><tspan x="48">53</tspan><tspan x="57.5">65</tspan><tspan x="67">117</tspan><tspan x="76.5">131</tspan><tspan x="86">136</tspan><tspan x="95.5">138</tspan></text><text class="n" y="10.4"><tspan x="10">1</tspan><tspan x="19.5">1</tspan><tspan x="29">1</tspan><tspan x="38.5">1</tspan><tspan x="48">0</tspan><tspan x="57.5">0</tspan><tspan x="67">1</tspan><tspan x="76.5">1</tspan><tspan x="86">0</tspan><tspan x="95.5">0</tspan></text><use href="#c" class="o" x="10"/><use href="#c" class="o" x="19.5"/><use href="#c" class="o" x="29"/><use href="#c" class="o" x="38.5"/><use href="#c" class="o" x="48"/><use href="#c" class="o" x="57.5"/><use href="#c" class="o" x="67"/><use href="#c" class="o" x="76.5"/><use href="#c" class="o" x="86"/><use href="#c" class="o" x="95.5"/></g><text class="tx" x="934" y="929.7">Lobetus sp.</text></g>

<g id="clade-U"><g transform="translate(819.5,1012.94)"><text class="n" y="-5.6"><tspan x="10">70</tspan><tspan x="19.5">125</tspan></text><text class="n" y="10.4"><tspan x="10">0</tspan><tspan x="19.5">1</tspan></text><use href="#c" class="o" x="10"/><use href="#c" class="o" x="19.5"/></g><text class="lb" x="853" y="1000.44">U</text><text class="lb" x="854" y="1037.44">1</text></g>

<g id="clade-V"><g transform="translate(857,966.125)"><text class="n" y="-5.6"><tspan x="10">46</tspan><tspan x="19.5">75</tspan><tspan x="29">85</tspan><tspan x="38.5">89</tspan><tspan x="48">137</tspan></text><text class="n" y="10.4"><tspan x="10">1</tspan><tspan x="19.5">0</tspan><tspan x="29">1</tspan><tspan x="38.5">1</tspan><tspan x="48">0</tspan></text><use href="#c" class="o" x="10"/><use href="#c" class="o" x="19.5"/><use href="#c" class="o" x="29"/><use href="#c" class="o" x="38.5"/><use href="#c" class="o" x="48"/></g><text class="lb" x="918" y="953.6">V</text><text class="lb" x="919" y="990.6">2</text></g>

<g id="t-maximiceps"><g transform="translate(922,952.75)"><text class="n" y="-5.6"><tspan x="10">53</tspan><tspan x="19.5">112</tspan><tspan x="29">118</tspan></text><text class="n" y="10.4"><tspan x="10">0</tspan><tspan x="19.5">2</tspan><tspan x="29">1</tspan></text><use href="#c" class="o" x="10"/><use href="#c" class="o" x="19.5"/><use href="#c" class="o" x="29"/></g><text class="tx" x="970" y="956.45">Macromalthinus maximiceps</text></g>

<g id="t-brasiliensis"><g transform="translate(922,979.5)"><text class="n" y="-5.6"><tspan x="10">17</tspan><tspan x="19.5">124</tspan></text><text class="n" y="10.4"><tspan x="10">1</tspan><tspan x="19.5">0</tspan></text><use href="#c" class="o" x="10"/><use href="#c" class="o" x="19.5"/></g><text class="tx" x="960.5" y="983.2">Macromalthinus brasiliensis</text></g>

<g id="clade-W"><g transform="translate(857,1059.75)"><text class="n" y="-5.6"><tspan x="10">3</tspan><tspan x="19.5">7</tspan><tspan x="29">55</tspan><tspan x="38.5">88</tspan><tspan x="48">121</tspan><tspan x="57.5">124</tspan><tspan x="67">128</tspan></text><text class="n" y="10.4"><tspan x="10">0</tspan><tspan x="19.5">1</tspan><tspan x="29">1</tspan><tspan x="38.5">1</tspan><tspan x="48">0</tspan><tspan x="57.5">0</tspan><tspan x="67">0</tspan></text><use href="#c" class="o" x="10"/><use href="#c" class="o" x="19.5"/><use href="#c" class="f" x="29"/><use href="#c" class="f" x="38.5"/><use href="#c" class="o" x="48"/><use href="#c" class="o" x="57.5"/><use href="#c" class="o" x="67"/></g><text class="lb" x="936.5" y="1047.25">W</text><text class="lb" x="937.5" y="1084.25">1</text></g>

<g id="t-torticollis"><g transform="translate(940.5,1006.25)"><text class="n" y="-5.6"><tspan x="10">17</tspan><tspan x="19.5">18</tspan><tspan x="29">53</tspan><tspan x="38.5">55</tspan><tspan x="48">89</tspan><tspan x="57.5">112</tspan></text><text class="n" y="10.4"><tspan x="10">1</tspan><tspan x="19.5">1</tspan><tspan x="29">0</tspan><tspan x="38.5">0</tspan><tspan x="48">1</tspan><tspan x="57.5">2</tspan></text><use href="#c" class="o" x="10"/><use href="#c" class="o" x="19.5"/><use href="#c" class="o" x="29"/><use href="#c" class="o" x="38.5"/><use href="#c" class="o" x="48"/><use href="#c" class="o" x="57.5"/></g><text class="tx" x="1017" y="1009.95">Lobetus torticollis</text></g>

<g id="clade-X"><g transform="translate(940.5,1046.375)"><text class="n" y="-5.6"><tspan x="10">7</tspan><tspan x="19.5">67</tspan><tspan x="29">96</tspan><tspan x="38.5">117</tspan></text><text class="n" y="10.4"><tspan x="10">0</tspan><tspan x="19.5">1</tspan><tspan x="29">1</tspan><tspan x="38.5">1</tspan></text><use href="#c" class="o" x="10"/><use href="#c" class="o" x="19.5"/><use href="#c" class="f" x="29"/><use href="#c" class="o" x="38.5"/></g><text class="lb" x="992.5" y="1033.9">X</text><text class="lb" x="993.5" y="1070.9">2</text></g>

<g id="t-major"><g transform="translate(996.5,1033)"><text class="n" y="-5.6"><tspan x="10">121</tspan></text><text class="n" y="10.4"><tspan x="10">1</tspan></text><use href="#c" class="o" x="10"/></g><text class="tx" x="1026" y="1036.7">Pseudolobetus major</text></g>

<g id="t-tibialis"><g transform="translate(996.5,1059.75)"><text class="n" y="-5.6"><tspan x="10">18</tspan><tspan x="19.5">47</tspan><tspan x="29">70</tspan><tspan x="38.5">111</tspan><tspan x="48">137</tspan></text><text class="n" y="10.4"><tspan x="10">1</tspan><tspan x="19.5">1</tspan><tspan x="29">1</tspan><tspan x="38.5">1</tspan><tspan x="48">0</tspan></text><use href="#c" class="o" x="10"/><use href="#c" class="o" x="19.5"/><use href="#c" class="o" x="29"/><use href="#c" class="f" x="38.5"/><use href="#c" class="f" x="48"/></g><text class="tx" x="1063.5" y="1063.45">Pseudolobetus tibialis</text></g>

<g id="clade-Y"><g transform="translate(940.5,1113.25)"><text class="n" y="-5.6"><tspan x="10">1</tspan><tspan x="19.5">10</tspan><tspan x="29">20</tspan><tspan x="38.5">22</tspan><tspan x="48">24</tspan><tspan x="57.5">26</tspan><tspan x="67">29</tspan><tspan x="76.5">32</tspan><tspan x="86">45</tspan><tspan x="95.5">53</tspan><tspan x="105">72</tspan><tspan x="114.5">75</tspan><tspan x="124">94</tspan><tspan x="133.5">96</tspan><tspan x="143">105</tspan><tspan x="152.5">108</tspan><tspan x="162">114</tspan><tspan x="171.5">127</tspan><tspan x="181">128</tspan><tspan x="190.5">130</tspan><tspan x="200">135</tspan><tspan x="209.5">138</tspan></text><text class="n" y="10.4"><tspan x="10">0</tspan><tspan x="19.5">0</tspan><tspan x="29">2</tspan><tspan x="38.5">0</tspan><tspan x="48">1</tspan><tspan x="57.5">1</tspan><tspan x="67">1</tspan><tspan x="76.5">0</tspan><tspan x="86">1</tspan><tspan x="95.5">0</tspan><tspan x="105">1</tspan><tspan x="114.5">2</tspan><tspan x="124">0</tspan><tspan x="133.5">1</tspan><tspan x="143">1</tspan><tspan x="152.5">0</tspan><tspan x="162">0</tspan><tspan x="171.5">0</tspan><tspan x="181">1</tspan><tspan x="190.5">1</tspan><tspan x="200">0</tspan><tspan x="209.5">0</tspan></text><use href="#c" class="o" x="10"/><use href="#c" class="o" x="19.5"/><use href="#c" class="o" x="29"/><use href="#c" class="f" x="38.5"/><use href="#c" class="f" x="48"/><use href="#c" class="o" x="57.5"/><use href="#c" class="o" x="67"/><use href="#c" class="o" x="76.5"/><use href="#c" class="f" x="86"/><use href="#c" class="o" x="95.5"/><use href="#c" class="f" x="105"/><use href="#c" class="o" x="114.5"/><use href="#c" class="f" x="124"/><use href="#c" class="o" x="133.5"/><use href="#c" class="o" x="143"/><use href="#c" class="o" x="152.5"/><use href="#c" class="o" x="162"/><use href="#c" class="o" x="171.5"/><use href="#c" class="o" x="181"/><use href="#c" class="f" x="190.5"/><use href="#c" class="o" x="200"/><use href="#c" class="o" x="209.5"/></g><text class="lb" x="1165.5" y="1100.75">Y</text><text class="lb" x="1166.5" y="1137.75">&gt;9</text></g>

<g id="t-trypherus"><g transform="translate(1169.5,1086.5)"><text class="n" y="-5.6"><tspan x="10">41</tspan><tspan x="19.5">48</tspan><tspan x="29">49</tspan><tspan x="38.5">65</tspan><tspan x="48">70</tspan><tspan x="57.5">81</tspan><tspan x="67">110</tspan><tspan x="76.5">116</tspan><tspan x="86">136</tspan></text><text class="n" y="10.4"><tspan x="10">1</tspan><tspan x="19.5">0</tspan><tspan x="29">1</tspan><tspan x="38.5">0</tspan><tspan x="48">1</tspan><tspan x="57.5">0</tspan><tspan x="67">0</tspan><tspan x="76.5">0</tspan><tspan x="86">0</tspan></text><use href="#c" class="o" x="10"/><use href="#c" class="o" x="19.5"/><use href="#c" class="o" x="29"/><use href="#c" class="o" x="38.5"/><use href="#c" class="o" x="48"/><use href="#c" class="o" x="57.5"/><use href="#c" class="o" x="67"/><use href="#c" class="o" x="76.5"/><use href="#c" class="o" x="86"/></g><text class="tx" x="1274.5" y="1090.2">Trypherus latipennis</text></g>

<g id="clade-Z"><g transform="translate(1169.5,1140)"><text class="n" y="-5.6"><tspan x="10">8</tspan><tspan x="19.5">13</tspan><tspan x="29">33</tspan><tspan x="38.5">39</tspan><tspan x="48">85</tspan><tspan x="57.5">91</tspan><tspan x="67">98</tspan><tspan x="76.5">132</tspan></text><text class="n" y="10.4"><tspan x="10">0</tspan><tspan x="19.5">0</tspan><tspan x="29">1</tspan><tspan x="38.5">1</tspan><tspan x="48">1</tspan><tspan x="57.5">1</tspan><tspan x="67">1</tspan><tspan x="76.5">0</tspan></text><use href="#c" class="o" x="10"/><use href="#c" class="f" x="19.5"/><use href="#c" class="o" x="29"/><use href="#c" class="o" x="38.5"/><use href="#c" class="f" x="48"/><use href="#c" class="f" x="57.5"/><use href="#c" class="f" x="67"/><use href="#c" class="o" x="76.5"/></g><text class="lb" x="1260" y="1127.5">Z</text><text class="lb" x="1261" y="1164.5">6</text></g>

<g id="t-malthoichthyurus-sp2"><g transform="translate(1264,1113.25)"><text class="n" y="-5.6"><tspan x="10">3</tspan><tspan x="19.5">124</tspan><tspan x="29">131</tspan></text><text class="n" y="10.4"><tspan x="10">1</tspan><tspan x="19.5">1</tspan><tspan x="29">1</tspan></text><use href="#c" class="o" x="10"/><use href="#c" class="o" x="19.5"/><use href="#c" class="o" x="29"/></g><text class="tx" x="1312" y="1116.95">Malthoichthyurus sp2</text></g>

<g id="node-Z2"><g transform="translate(1264,1166.75)"><text class="n" y="-5.6"><tspan x="10">7</tspan><tspan x="19.5">63</tspan><tspan x="29">119</tspan><tspan x="38.5">137</tspan></text><text class="n" y="10.4"><tspan x="10">0</tspan><tspan x="19.5">1</tspan><tspan x="29">0</tspan><tspan x="38.5">0</tspan></text><use href="#c" class="o" x="10"/><use href="#c" class="o" x="19.5"/><use href="#c" class="o" x="29"/><use href="#c" class="o" x="38.5"/></g><text class="lb" x="1317" y="1191.25">1</text></g>

<g id="t-malthoichthyurus-sp1"><g transform="translate(1320,1140)"><text class="n" y="-5.6"><tspan x="10">7</tspan><tspan x="19.5">38</tspan><tspan x="29">65</tspan></text><text class="n" y="10.4"><tspan x="10">1</tspan><tspan x="19.5">2</tspan><tspan x="29">0</tspan></text><use href="#c" class="o" x="10"/><use href="#c" class="f" x="19.5"/><use href="#c" class="o" x="29"/></g><text class="tx" x="1368" y="1143.7">Malthoichthyurus sp1</text></g>

<g id="t-ichthyurus"><g transform="translate(1320,1166.75)"><text class="n" y="-5.6"><tspan x="10">3</tspan><tspan x="19.5">9</tspan><tspan x="29">46</tspan><tspan x="38.5">48</tspan><tspan x="48">65</tspan><tspan x="57.5">71</tspan><tspan x="67">72</tspan><tspan x="76.5">81</tspan><tspan x="86">90</tspan><tspan x="95.5">97</tspan><tspan x="105">108</tspan><tspan x="114.5">112</tspan><tspan x="124">116</tspan></text><text class="n" y="10.4"><tspan x="10">1</tspan><tspan x="19.5">0</tspan><tspan x="29">1</tspan><tspan x="38.5">1</tspan><tspan x="48">0</tspan><tspan x="57.5">1</tspan><tspan x="67">0</tspan><tspan x="76.5">0</tspan><tspan x="86">0</tspan><tspan x="95.5">1</tspan><tspan x="105">1</tspan><tspan x="114.5">2</tspan><tspan x="124">0</tspan></text><use href="#c" class="f" x="10"/><use href="#c" class="o" x="19.5"/><use href="#c" class="o" x="29"/><use href="#c" class="o" x="38.5"/><use href="#c" class="o" x="48"/><use href="#c" class="o" x="57.5"/><use href="#c" class="o" x="67"/><use href="#c" class="o" x="76.5"/><use href="#c" class="f" x="86"/><use href="#c" class="f" x="95.5"/><use href="#c" class="o" x="105"/><use href="#c" class="o" x="114.5"/><use href="#c" class="o" x="124"/></g><text class="tx" x="1463" y="1170.45">Ichthyurus laterallis</text></g>

<g id="t-pseudocerocoma"><g transform="translate(1320,1193.5)"><text class="n" y="-5.6"><tspan x="10">17</tspan><tspan x="19.5">18</tspan><tspan x="29">41</tspan><tspan x="38.5">70</tspan><tspan x="48">115</tspan></text><text class="n" y="10.4"><tspan x="10">1</tspan><tspan x="19.5">1</tspan><tspan x="29">1</tspan><tspan x="38.5">1</tspan><tspan x="48">1</tspan></text><use href="#c" class="o" x="10"/><use href="#c" class="o" x="19.5"/><use href="#c" class="o" x="29"/><use href="#c" class="o" x="38.5"/><use href="#c" class="f" x="48"/></g><text class="tx" x="1387" y="1197.2">Pseudocerocoma mirabilis</text></g>

<g id="title">
<text class="ti" x="979" y="86" font-size="23" textLength="578" lengthAdjust="spacingAndGlyphs">Análise cladística de Chauliognathini LeConte, 1861</text>
<text class="ti" x="1337" y="109" font-size="16.5" textLength="220" lengthAdjust="spacingAndGlyphs">(Coleoptera, Cantharidae)</text>
<text x="1457" y="162" font-family="Liberation Sans, Arial, sans-serif" font-weight="bold" font-size="20" fill="#222" textLength="100" lengthAdjust="spacingAndGlyphs">Gabriel Biffi</text>
</g>

<g id="caption">
<text class="cap" x="7" y="1096" textLength="765" lengthAdjust="spacingAndGlyphs">Árvore de consenso estrito resultante das 48 árvores mais parcimoniosas. Enraizamento em</text>
<text class="cap" x="7" y="1120.5" textLength="765" lengthAdjust="spacing"><tspan font-style="italic">Cantharis fusca</tspan>, 341 passos de transformação, índice de consistência 0,43, índice de</text>
<text class="cap" x="7" y="1145" textLength="765" lengthAdjust="spacingAndGlyphs">retenção 0,81. Círculos brancos indicam homoplasias ou reversões e círculos pretos indicam</text>
<text class="cap" x="7" y="1169.5" textLength="765" lengthAdjust="spacingAndGlyphs">sinapomorfias exclusivas. As letras representam o nome dos clados e os números indicam</text>
<text class="cap" x="7" y="1194" textLength="276" lengthAdjust="spacingAndGlyphs">os valores de suporte de Bremer.</text>
</g>
</g>
</svg>
